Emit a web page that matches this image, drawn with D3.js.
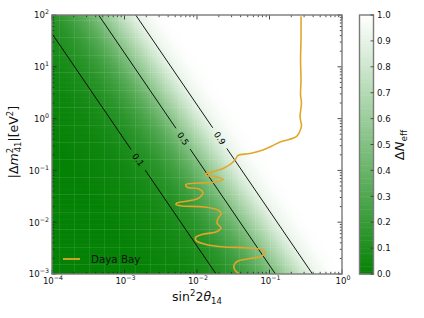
<!DOCTYPE html>
<html><head><meta charset="utf-8">
<script src="https://cdn.jsdelivr.net/npm/d3@7"></script>
<style>
html,body{margin:0;padding:0;background:#fff;}
svg{display:block;}
text{font-family:"DejaVu Sans",sans-serif;}
</style></head>
<body>
<svg id="chart" width="424" height="318"></svg>
<script>
// ---------- data ----------
// ΔN_eff profile read off the colour field, along the direction of steepest change
// (position u = log10(sin²2θ) + log10(Δm²)/contourSlope)
const contourSlope = 2.05;
const profileU  = [-4.2, -3.6, -3.4, -3.2, -3.0, -2.8, -2.6, -2.4, -2.2, -2.0, -1.87, -1.8, -1.6, -1.4];
const profileDN = [0.0, 0.04, 0.065, 0.10, 0.15, 0.23, 0.34, 0.485, 0.65, 0.81, 0.90, 0.93, 0.985, 1.0];
// contour levels and Δm² at which their labels sit
const contourLevels = [0.1, 0.5, 0.9];
const contourLabelM = [0.16, 0.41, 0.42];
// Daya Bay exclusion curve
const dayaS = [0.272,0.272,0.268,0.272,0.268,0.276,0.264,0.276,0.255,0.232,0.186,0.140,0.108,0.0813,0.0538,0.0368,0.0345,0.0304,0.0236,0.0171,0.0133,0.0137,0.0189,0.0229,0.0183,0.0110,0.00705,0.00728,0.0107,0.0121,0.0114,0.0103,0.00752,0.00530,0.00513,0.00621,0.0129,0.0201,0.0214,0.0195,0.0189,0.0214,0.0189,0.0117,0.00968,0.00968,0.0133,0.0243,0.0474,0.0788,0.0867,0.0788,0.0538,0.0368,0.0324,0.0334,0.0379];
const dayaM = [95,32.9,13.5,5.56,2.86,2.00,1.07,0.719,0.527,0.442,0.395,0.353,0.296,0.248,0.212,0.194,0.170,0.139,0.111,0.0953,0.0853,0.0798,0.0746,0.0667,0.0597,0.0571,0.0534,0.0478,0.0438,0.0374,0.0320,0.0287,0.0257,0.0235,0.0220,0.0206,0.0197,0.0168,0.0144,0.0118,0.00966,0.00773,0.00661,0.00579,0.00518,0.00443,0.00371,0.00332,0.00322,0.00297,0.00260,0.00222,0.00199,0.00178,0.00149,0.00119,0.00102];
const xDomain = [1e-4, 1];
const yDomain = [1e-3, 1e2];
const xTickExps = [-4, -3, -2, -1, 0];
const yTickExps = [-3, -2, -1, 0, 1, 2];
const cbTicks = [0.0,0.1,0.2,0.3,0.4,0.5,0.6,0.7,0.8,0.9,1.0];
const legendLabel = "Daya Bay";

// ---------- layout ----------
const L = 52, R = 342, T = 15, B = 274;
const cbL = 359.5, cbR = 373.5;
const svg = d3.select("#chart");
const x = d3.scaleLog().domain(xDomain).range([L, R]);
const y = d3.scaleLog().domain(yDomain).range([B, T]);
const prof = d3.scaleLinear().domain(profileU).range(profileDN).clamp(true);
const color = d3.scaleLinear().domain([0, 1]).range(["#058205", "#ffffff"]).interpolate(d3.interpolateRgb);
const uOf = (s, m) => Math.log10(s) + Math.log10(m) / contourSlope;

// ---------- heat field ----------
const nx = 116, ny = 104;
const lx = d3.scaleLinear().domain([0, nx]).range([Math.log10(xDomain[0]), Math.log10(xDomain[1])]);
const ly = d3.scaleLinear().domain([0, ny]).range([Math.log10(yDomain[0]), Math.log10(yDomain[1])]);
const cells = [];
for (let i = 0; i < nx; i++) for (let j = 0; j < ny; j++) {
  const s = Math.pow(10, lx(i + 0.5)), m = Math.pow(10, ly(j + 0.5));
  cells.push({i, j, v: prof(uOf(s, m))});
}
const clip = svg.append("defs").append("clipPath").attr("id", "clipP");
clip.append("rect").attr("x", L).attr("y", T).attr("width", R - L).attr("height", B - T);
const plot = svg.append("g").attr("clip-path", "url(#clipP)");
plot.append("g").selectAll("rect").data(cells).join("rect")
  .attr("x", d => x(Math.pow(10, lx(d.i))))
  .attr("y", d => y(Math.pow(10, ly(d.j + 1))))
  .attr("width", d => x(Math.pow(10, lx(d.i + 1))) - x(Math.pow(10, lx(d.i))) + 0.6)
  .attr("height", d => y(Math.pow(10, ly(d.j))) - y(Math.pow(10, ly(d.j + 1))) + 0.6)
  .attr("fill", d => color(d.v));
// faint resampling texture along cell boundaries
const tex = plot.append("g").attr("stroke", "#ffffff").attr("stroke-opacity", 0.09).attr("stroke-width", 1);
d3.range(3, nx, 6).forEach(i => {
  const px = Math.round(x(Math.pow(10, lx(i)))) + 0.5;
  tex.append("line").attr("x1", px).attr("x2", px).attr("y1", T).attr("y2", B);
});
d3.range(4, ny, 7).forEach(j => {
  const py = Math.round(y(Math.pow(10, ly(j)))) + 0.5;
  tex.append("line").attr("x1", L).attr("x2", R).attr("y1", py).attr("y2", py);
});

// ---------- contours ----------
const invProf = d3.scaleLinear().domain(profileDN).range(profileU);
const levelU = contourLevels.map(lv => invProf(lv));
const lmMin = Math.log10(yDomain[0]), lmMax = Math.log10(yDomain[1]);
contourLevels.forEach((lv, k) => {
  const u = levelU[k];
  const lmLab = Math.log10(contourLabelM[k]);
  const sAt = lm => Math.pow(10, u - lm / contourSlope);
  const gap = 0.2; // half-gap in decades of Δm²
  const segs = [[lmMax + 0.5, lmLab + gap], [lmLab - gap, lmMin - 0.5]];
  segs.forEach(sg => {
    plot.append("line")
      .attr("x1", x(sAt(sg[0]))).attr("y1", y(Math.pow(10, sg[0])))
      .attr("x2", x(sAt(sg[1]))).attr("y2", y(Math.pow(10, sg[1])))
      .attr("stroke", "#000").attr("stroke-width", 0.9);
  });
  const px = x(sAt(lmLab)), py = y(Math.pow(10, lmLab));
  const ang = Math.atan2(y(Math.pow(10, lmLab - 1)) - py, x(sAt(lmLab - 1)) - px) * 180 / Math.PI;
  svg.append("text").attr("transform", `translate(${px},${py}) rotate(${ang})`)
    .attr("text-anchor", "middle").attr("dy", "0.35em")
    .attr("font-size", 8.5).attr("fill", "#000").text(lv.toFixed(1));
});

// ---------- Daya Bay curve ----------
const dayaPts = dayaS.map((s, i) => [s, dayaM[i]]);
plot.append("path").datum(dayaPts)
  .attr("d", d3.line().x(d => x(d[0])).y(d => y(d[1])).curve(d3.curveCatmullRom.alpha(0.5)))
  .attr("fill", "none").attr("stroke", "#e3a62c").attr("stroke-width", 1.6);

// ---------- ticks ----------
const minorX = [], minorY = [];
for (let e = -4; e < 0; e++) for (let k = 2; k <= 9; k++) minorX.push(k * Math.pow(10, e));
for (let e = -3; e < 2; e++) for (let k = 2; k <= 9; k++) minorY.push(k * Math.pow(10, e));
const tk = svg.append("g").attr("stroke", "#222").attr("stroke-width", 0.8);
xTickExps.forEach(e => {
  const v = Math.pow(10, e), px = x(v);
  tk.append("line").attr("x1", px).attr("x2", px).attr("y1", B).attr("y2", B - 4.5);
  tk.append("line").attr("x1", px).attr("x2", px).attr("y1", T).attr("y2", T + 4.5);
});
minorX.forEach(v => {
  const px = x(v);
  tk.append("line").attr("x1", px).attr("x2", px).attr("y1", B).attr("y2", B - 2.2);
  tk.append("line").attr("x1", px).attr("x2", px).attr("y1", T).attr("y2", T + 2.2);
});
yTickExps.forEach(e => {
  const py = y(Math.pow(10, e));
  tk.append("line").attr("x1", L).attr("x2", L + 4.5).attr("y1", py).attr("y2", py);
  tk.append("line").attr("x1", R).attr("x2", R - 4.5).attr("y1", py).attr("y2", py);
});
minorY.forEach(v => {
  const py = y(v);
  tk.append("line").attr("x1", L).attr("x2", L + 2.2).attr("y1", py).attr("y2", py);
  tk.append("line").attr("x1", R).attr("x2", R - 2.2).attr("y1", py).attr("y2", py);
});

// frame
svg.append("rect").attr("x", L).attr("y", T).attr("width", R - L).attr("height", B - T)
  .attr("fill", "none").attr("stroke", "#7a7a7a").attr("stroke-width", 1.4);

// tick labels
function powLabel(sel, e) {
  sel.append("tspan").text("10");
  sel.append("tspan").attr("font-size", 6.3).attr("dy", -4).text(e < 0 ? "−" + (-e) : String(e));
}
xTickExps.forEach(e => {
  const t = svg.append("text").attr("x", x(Math.pow(10, e)) + 1).attr("y", 284)
    .attr("text-anchor", "middle").attr("font-size", 8.6).attr("fill", "#111");
  powLabel(t, e);
});
yTickExps.forEach(e => {
  const t = svg.append("text").attr("x", 49).attr("y", y(Math.pow(10, e)) + 3.3)
    .attr("text-anchor", "end").attr("font-size", 8.6).attr("fill", "#111");
  powLabel(t, e);
});

// axis labels
const xl = svg.append("text").attr("x", 197).attr("y", 301).attr("text-anchor", "middle")
  .attr("font-family", "'Liberation Serif',serif").attr("font-size", 12.5).attr("fill", "#111");
xl.append("tspan").text("sin");
xl.append("tspan").attr("font-size", 8.5).attr("dy", -5).text("2");
xl.append("tspan").attr("dy", 5).text("2");
xl.append("tspan").attr("font-style", "italic").text("θ");
xl.append("tspan").attr("font-size", 8.5).attr("dy", 2.5).text("14");

const yl = svg.append("text").attr("transform", "translate(18,142) rotate(-90)").attr("text-anchor", "middle")
  .attr("font-family", "'Liberation Serif',serif").attr("font-size", 12.5).attr("fill", "#111");
yl.append("tspan").text("|Δ");
yl.append("tspan").attr("font-style", "italic").text("m");
yl.append("tspan").attr("font-size", 8.5).attr("dy", -5).text("2");
yl.append("tspan").attr("font-size", 8.5).attr("dx", -4.5).attr("dy", 8).text("41");
yl.append("tspan").attr("dy", -3).text("|[eV");
yl.append("tspan").attr("font-size", 8.5).attr("dy", -5).text("2");
yl.append("tspan").attr("dy", 5).text("]");

// legend
svg.append("line").attr("x1", 63).attr("x2", 80).attr("y1", 259).attr("y2", 259)
  .attr("stroke", "#e3a62c").attr("stroke-width", 1.8);
svg.append("text").attr("x", 91).attr("y", 263).attr("font-size", 10.3).attr("fill", "#111").text(legendLabel);

// ---------- colorbar ----------
const cy = d3.scaleLinear().domain([0, 1]).range([B, T]);
const cbSteps = d3.range(0, 1, 0.01);
svg.append("g").selectAll("rect").data(cbSteps).join("rect")
  .attr("x", cbL).attr("width", cbR - cbL)
  .attr("y", d => cy(d + 0.01)).attr("height", d => cy(d) - cy(d + 0.01) + 0.5)
  .attr("fill", d => color(d + 0.005));
svg.append("rect").attr("x", cbL).attr("y", T).attr("width", cbR - cbL).attr("height", B - T)
  .attr("fill", "none").attr("stroke", "#7a7a7a").attr("stroke-width", 1.4);
cbTicks.forEach(v => {
  svg.append("line").attr("x1", cbR).attr("x2", cbR - 3).attr("y1", cy(v)).attr("y2", cy(v))
    .attr("stroke", "#333").attr("stroke-width", 0.8);
  svg.append("text").attr("x", 377).attr("y", cy(v) + 3.2).attr("font-size", 8.6).attr("fill", "#111")
    .text(v.toFixed(1));
});
const cl = svg.append("text").attr("transform", "translate(404,145) rotate(-90)").attr("text-anchor", "middle")
  .attr("font-family", "'Liberation Serif',serif").attr("font-size", 13).attr("fill", "#111");
cl.append("tspan").text("Δ");
cl.append("tspan").attr("font-style", "italic").text("N");
cl.append("tspan").attr("font-size", 9).attr("dy", 3).text("eff");
</script>
</body></html>
